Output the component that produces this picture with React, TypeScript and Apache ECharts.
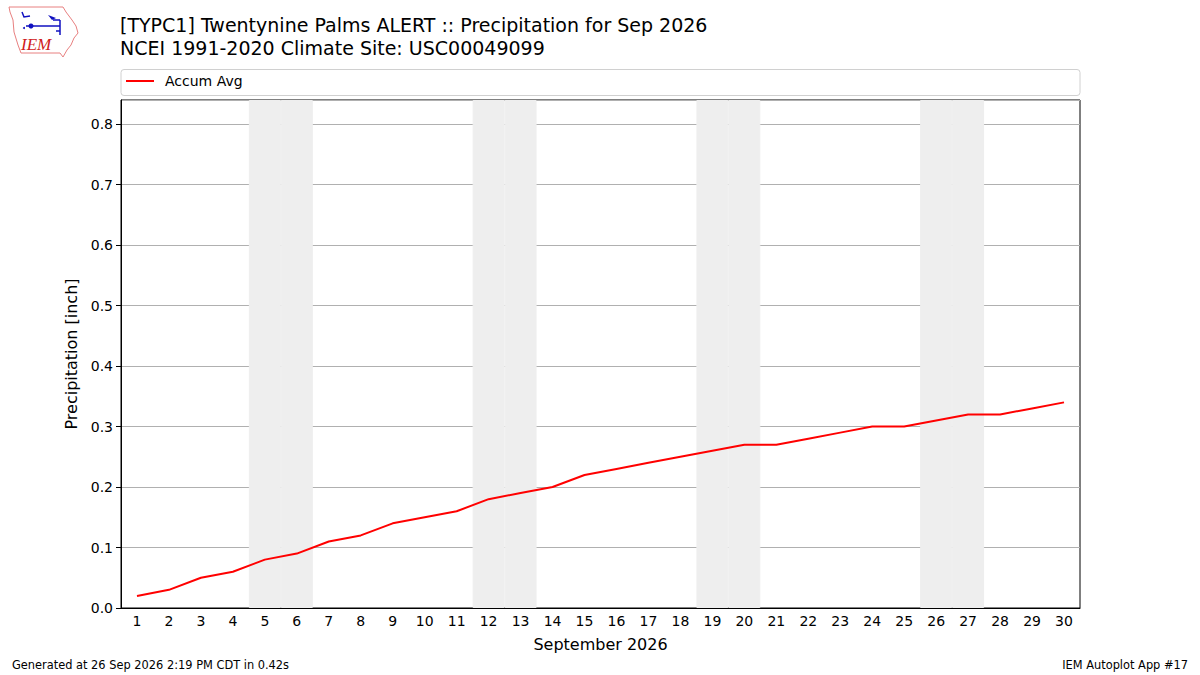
import { useEffect, useRef } from 'react'
import * as echarts from 'echarts'

// 数据
const days = Array.from({ length: 30 }, (_, i) => String(i + 1))
const accumAvg = [
    0.02, 0.03, 0.05, 0.06, 0.08, 0.09, 0.11, 0.12, 0.14, 0.15,
    0.16, 0.18, 0.19, 0.20, 0.22, 0.23, 0.24, 0.25, 0.26, 0.27,
    0.27, 0.28, 0.29, 0.30, 0.30, 0.31, 0.32, 0.32, 0.33, 0.34,
]
const weekendDays = [5, 6, 12, 13, 19, 20, 26, 27]
const yMax = 0.84

const FONT = 'DejaVu Sans'

export default function App() {
    const chartRef = useRef<HTMLDivElement>(null)

    useEffect(() => {
        document.body.style.margin = '0'
        if (!chartRef.current) return
        const chart = echarts.init(chartRef.current, undefined, { renderer: 'svg' })

        const shade = days.map(d => (weekendDays.includes(Number(d)) ? yMax : '-'))

        chart.setOption({
            animation: false,
            backgroundColor: '#fff',
            textStyle: { fontFamily: FONT },
            title: {
                text: '[TYPC1] Twentynine Palms ALERT :: Precipitation for Sep 2026\nNCEI 1991-2020 Climate Site: USC00049099',
                left: 120,
                top: 13,
                padding: 0,
                textStyle: { fontFamily: FONT, fontSize: 19, fontWeight: 'normal', color: '#000', lineHeight: 23 },
            },
            legend: {
                data: ['Accum Avg'],
                left: 126,
                top: 74,
                padding: 0,
                icon: 'rect',
                itemWidth: 28,
                itemHeight: 2,
                textStyle: { fontFamily: FONT, fontSize: 14, color: '#000', padding: [0, 0, 0, 6] },
            },
            grid: {
                left: 121,
                right: 120,
                top: 100,
                bottom: 67,
                show: true,
                borderColor: '#000',
                borderWidth: 1,
            },
            xAxis: {
                type: 'category',
                data: days,
                boundaryGap: true,
                name: 'September 2026',
                nameLocation: 'middle',
                nameGap: 28,
                nameTextStyle: { fontFamily: FONT, fontSize: 16, color: '#000' },
                axisLine: { lineStyle: { color: '#000' } },
                axisTick: { alignWithLabel: true, length: 5, lineStyle: { color: '#000' } },
                axisLabel: { fontFamily: FONT, fontSize: 14, color: '#000', interval: 0, margin: 6 },
                splitLine: { show: false },
            },
            yAxis: {
                type: 'value',
                min: 0,
                max: yMax,
                interval: 0.1,
                name: 'Precipitation [inch]',
                nameLocation: 'middle',
                nameGap: 38,
                nameTextStyle: { fontFamily: FONT, fontSize: 16, color: '#000' },
                axisLine: { show: true, lineStyle: { color: '#000' } },
                axisTick: { show: true, length: 5, lineStyle: { color: '#000' } },
                axisLabel: {
                    fontFamily: FONT, fontSize: 14, color: '#000', margin: 8,
                    showMaxLabel: false,
                    formatter: (v: number) => v.toFixed(1),
                },
                splitLine: { show: true, lineStyle: { color: '#b0b0b0', width: 1 } },
            },
            series: [
                {
                    name: 'weekend',
                    type: 'bar',
                    data: shade,
                    barWidth: '100%',
                    barGap: '0%',
                    barCategoryGap: '0%',
                    itemStyle: { color: '#eeeeee', borderColor: '#eeeeee', borderWidth: 1 },
                    silent: true,
                    z: 1,
                },
                {
                    name: 'Accum Avg',
                    type: 'line',
                    data: accumAvg,
                    showSymbol: false,
                    lineStyle: { color: '#ff0000', width: 2 },
                    itemStyle: { color: '#ff0000' },
                    z: 3,
                },
            ],
            graphic: [
                // 图例外框
                {
                    type: 'rect',
                    shape: { x: 121, y: 69.5, width: 959, height: 26, r: 3 },
                    style: { fill: 'none', stroke: '#d0d0d0', lineWidth: 1 },
                    silent: true,
                },
                // IEM 标志
                {
                    type: 'group',
                    x: 0,
                    y: 0,
                    children: [
                        {
                            type: 'polygon',
                            shape: {
                                points: [
                                    [9, 7], [63, 7], [66, 12], [72, 20], [76, 26], [78, 33],
                                    [74, 38], [71, 45], [67, 50], [63, 57], [60, 53], [21, 53],
                                    [18, 45], [14, 32], [13, 20], [10, 12],
                                ],
                            },
                            style: { fill: 'none', stroke: '#e88080', lineWidth: 1 },
                        },
                        {
                            type: 'text',
                            style: {
                                x: 21, y: 36, text: 'IEM',
                                font: 'italic 17px "Liberation Serif"',
                                fill: '#d02020',
                            },
                        },
                        { type: 'line', shape: { x1: 26, y1: 26, x2: 60, y2: 26 }, style: { stroke: '#1010c0', lineWidth: 1.5 } },
                        { type: 'circle', shape: { cx: 31, cy: 26, r: 2.5 }, style: { fill: '#1010c0' } },
                        { type: 'polyline', shape: { points: [[22, 12], [24, 17], [30, 16]] }, style: { stroke: '#1010c0', lineWidth: 1.5, fill: 'none' } },
                        { type: 'polygon', shape: { points: [[48, 15], [56, 18], [52, 20]] }, style: { fill: '#1010c0' } },
                        { type: 'line', shape: { x1: 53, y1: 20, x2: 60, y2: 20 }, style: { stroke: '#1010c0', lineWidth: 1.5 } },
                        { type: 'line', shape: { x1: 60, y1: 20, x2: 60, y2: 35 }, style: { stroke: '#1010c0', lineWidth: 1.5 } },
                        { type: 'line', shape: { x1: 56, y1: 31, x2: 60, y2: 31 }, style: { stroke: '#1010c0', lineWidth: 1.5 } },
                        { type: 'circle', shape: { cx: 24, cy: 28, r: 1 }, style: { fill: '#1010c0' } },
                    ],
                },
                // 页脚
                {
                    type: 'text',
                    left: 12,
                    top: 659,
                    style: { text: 'Generated at 26 Sep 2026 2:19 PM CDT in 0.42s', font: `11.4px "${FONT}"`, fill: '#000' },
                },
                {
                    type: 'text',
                    right: 12,
                    top: 659,
                    style: { text: 'IEM Autoplot App #17', font: `11.4px "${FONT}"`, fill: '#000' },
                },
            ],
        })

        return () => {
            chart.dispose()
        }
    }, [])

    return <div ref={chartRef} style={{ width: 1200, height: 675 }} />
}
